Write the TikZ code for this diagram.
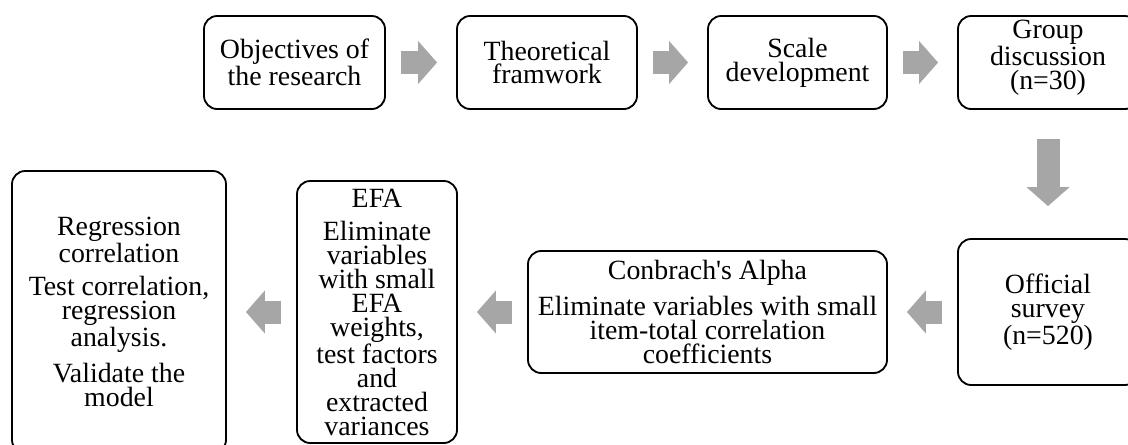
\documentclass[tikz,border=0pt]{standalone}
\usepackage{fontspec}
\setmainfont{Liberation Serif}[Ligatures=TeXOff]
\usetikzlibrary{arrows.meta}
\definecolor{arrowgray}{RGB}{166,166,166}

\begin{document}
\begin{tikzpicture}[
    stepbox/.style = {draw, line width=1.3pt, rounded corners=0.33cm, align=center,
        font=\fontsize{19.8}{17}\selectfont, inner sep=2pt},
    flow/.style = {arrowgray, line width=0.575cm,
        -{Triangle[length=0.475cm, width=1.05cm]},
        shorten <=0.375cm, shorten >=0.475cm}
]
    \useasboundingbox (0,0) rectangle (28.2,-11.1);

    % first row, left to right
    \node (obj) at (7.3625,-1.5625) [stepbox, minimum width=4.525cm, minimum height=2.325cm]
        {Objectives of\\the research};
    \node (theo) at (13.675,-1.5625) [stepbox, minimum width=4.5cm, minimum height=2.325cm]
        {Theoretical\\framwork};
    \node (scale) at (19.9375,-1.5625) [stepbox, minimum width=4.475cm, minimum height=2.325cm]
        {Scale\\development};
    \node (group) at (26.2,-1.5625) [stepbox, minimum width=4.5cm, minimum height=2.325cm,
        text depth=11pt]
        {Group\\discussion\\(n=30)};

    % second row, right to left
    \node (survey) at (26.2,-7.8) [stepbox, minimum width=4.5cm, minimum height=3.65cm]
        {Official\\survey\\(n=520)};
    \node (alpha) at (17.6875,-7.8) [stepbox, minimum width=8.975cm, minimum height=3.05cm]
        {Conbrach's Alpha\\[7pt]Eliminate variables with small\\item-total correlation\\coefficients};
    \node (efa) at (9.425,-7.8) [stepbox, minimum width=4cm, minimum height=6.55cm]
        {EFA\\[7pt]Eliminate\\variables\\with small\\EFA\\weights,\\test factors\\and\\extracted\\variances};
    \node (regr) at (2.975,-7.8) [stepbox, minimum width=5.35cm, minimum height=7.05cm]
        {Regression\\correlation\\[7pt]Test correlation,\\regression\\analysis.\\[7pt]Validate the\\model};

    \draw [flow] (obj) -- (theo);
    \draw [flow] (theo) -- (scale);
    \draw [flow] (scale) -- (group);
    \draw [flow, shorten <=0.725cm, shorten >=0.8cm] (group) -- (survey);
    \draw [flow] (survey) -- (alpha);
    \draw [flow] (alpha) -- (efa);
    \draw [flow] (efa) -- (regr);
\end{tikzpicture}
\end{document}
